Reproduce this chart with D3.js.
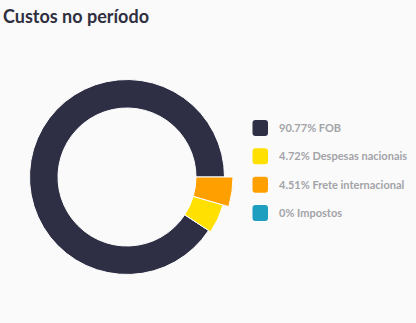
<!DOCTYPE html>
<html>
<head>
<meta charset="utf-8">
<script src="https://cdn.jsdelivr.net/npm/d3@7"></script>
<style>
  html, body { margin: 0; padding: 0; background: #fafafa; }
  svg { display: block; }
</style>
</head>
<body>
<svg id="chart" width="416" height="323"></svg>
<script>
// Cost breakdown for the period (percent of total)
const categories = ["FOB", "Despesas nacionais", "Frete internacional", "Impostos"];
const shares = [90.77, 4.72, 4.51, 0];
const labels = ["90.77%", "4.72%", "4.51%", "0%"];
const colors = ["#2e2f45", "#ffe000", "#ffa000", "#1f9fc0"];

const svg = d3.select("#chart");
const W = 416, H = 323;

svg.append("rect").attr("width", W).attr("height", H).attr("fill", "#fafafa");

svg.append("text")
  .attr("x", 3).attr("y", 23)
  .attr("font-family", "Lato, 'Open Sans', sans-serif")
  .attr("font-weight", 700)
  .attr("font-size", 18)
  .attr("fill", "#2f2f3f")
  .text("Custos no período");

const cx = 127, cy = 177;
const outerR = 97.5, innerR = 69;
// Slightly enlarged outer radius for the small slices (active/hover look)
const outerByIndex = [outerR, 100, 106, outerR];

const pie = d3.pie().sort(null).value(d => d)
  .startAngle(Math.PI / 2).endAngle(Math.PI / 2 - 2 * Math.PI);

const arcs = pie(shares);

const g = svg.append("g").attr("transform", `translate(${cx},${cy})`);
g.selectAll("path")
  .data(arcs)
  .join("path")
  .attr("d", (d, i) => d3.arc().innerRadius(innerR).outerRadius(outerByIndex[i])(d))
  .attr("fill", (d, i) => colors[i])
  .attr("stroke", "#ffffff")
  .attr("stroke-width", (d) => d.value > 0 ? 1 : 0);

// Legend
const y = d3.scalePoint().domain(categories).range([128, 213]);
const legend = svg.append("g");
const rows = legend.selectAll("g")
  .data(categories)
  .join("g")
  .attr("transform", d => `translate(0,${y(d)})`);

rows.append("rect")
  .attr("x", 252.5).attr("y", -8)
  .attr("width", 15.5).attr("height", 16)
  .attr("rx", 3)
  .attr("fill", (d, i) => colors[i]);

rows.append("text")
  .attr("x", 279).attr("y", 4)
  .attr("font-family", "Lato, 'Open Sans', sans-serif")
  .attr("font-weight", 700)
  .attr("font-size", 11)
  .attr("fill", "#a3a3a8")
  .text((d, i) => `${labels[i]} ${d}`);
</script>
</body>
</html>
